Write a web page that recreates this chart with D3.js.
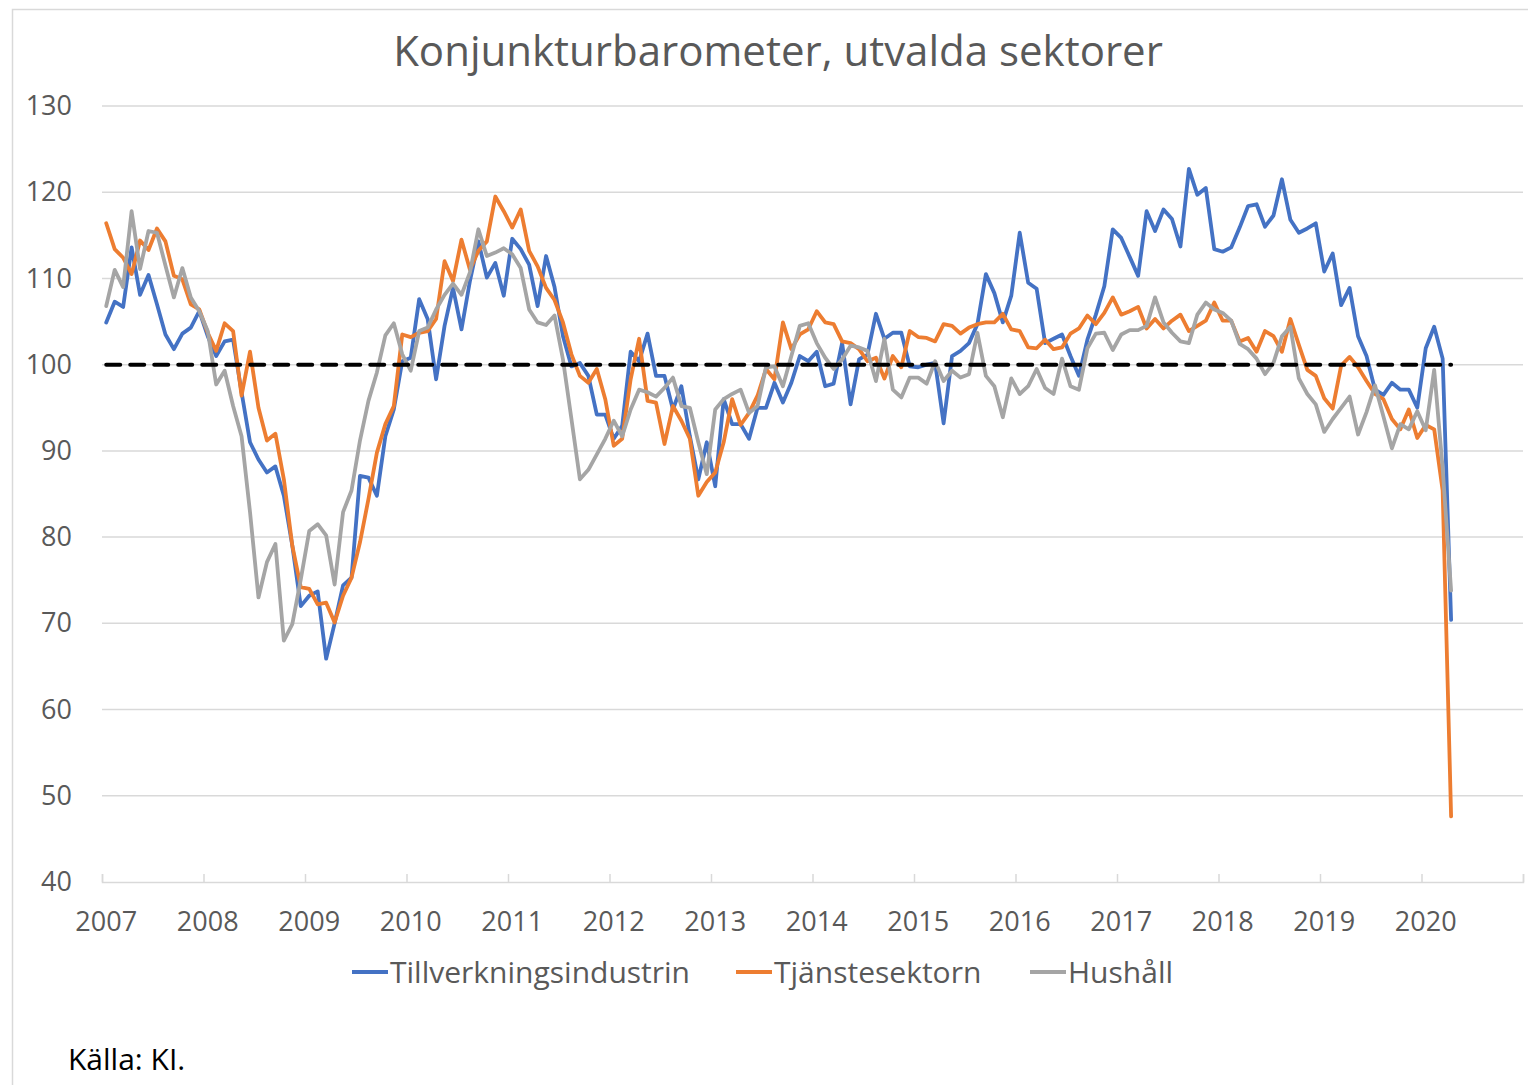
<!DOCTYPE html>
<html>
<head>
<meta charset="utf-8">
<script src="https://cdn.jsdelivr.net/npm/d3@7"></script>
<style>
  body { margin: 0; background: #fff; }
  svg text { font-family: "Open Sans", "DejaVu Sans", sans-serif; }
</style>
</head>
<body>
<div id="chart"></div>
<script>
// Monthly values Jan 2007 - Apr 2020
var years = ["2007","2008","2009","2010","2011","2012","2013","2014","2015","2016","2017","2018","2019","2020"];
var yTicks = [40, 50, 60, 70, 80, 90, 100, 110, 120, 130];
var seriesNames = ["Tillverkningsindustrin", "Tjänstesektorn", "Hushåll"];
var seriesColors = ["#4472C4", "#ED7D31", "#A5A5A5"];
var refLevel = 100;

var tillverkning = [
  104.9,107.3,106.7,113.6,108.1,110.4,107.0,103.5,101.8,103.6,104.3,106.2,
  103.3,101.0,102.7,102.9,96.8,91.0,89.0,87.5,88.2,84.8,79.0,72.0,
  73.2,73.7,65.9,70.0,74.4,75.3,87.1,86.9,84.8,91.7,94.8,100.4,
  100.8,107.6,105.3,98.3,104.5,108.9,104.1,109.7,114.3,110.1,111.8,108.0,
  114.6,113.4,111.6,106.8,112.6,109.0,103.3,99.8,100.2,98.7,94.2,94.2,
  91.4,92.9,101.5,100.4,103.6,98.7,98.7,94.8,97.5,91.7,86.7,91.0,
  85.9,96.0,93.1,93.1,91.4,95.0,95.0,97.9,95.6,97.9,101.0,100.4,
  101.5,97.5,97.8,102.5,95.4,100.6,101.2,105.9,103.0,103.7,103.7,99.8,
  99.7,100.0,100.2,93.2,101.0,101.6,102.5,104.7,110.5,108.3,104.9,108.0,
  115.3,109.5,108.8,102.5,103.0,103.5,101.0,98.7,102.9,105.8,109.1,115.7,
  114.7,112.5,110.3,117.8,115.5,118.0,116.9,113.7,122.7,119.7,120.5,113.4,
  113.1,113.6,115.9,118.4,118.6,116.0,117.3,121.5,116.8,115.3,115.8,116.4,
  110.8,112.9,106.9,108.9,103.3,101.0,97.1,96.5,97.9,97.1,97.1,95.0,
  101.9,104.4,100.7,70.4
];

var tjanste = [
  116.4,113.4,112.4,110.5,114.4,113.3,115.8,114.3,110.3,109.9,107.0,106.4,
  103.7,101.6,104.8,103.9,96.4,101.5,95.0,91.2,92.0,86.7,79.0,74.2,
  74.0,72.2,72.4,70.1,73.2,75.3,79.4,84.4,89.8,93.1,95.2,103.5,
  103.2,103.7,103.9,105.3,112.0,109.7,114.5,111.0,113.2,114.3,119.5,117.8,
  115.9,118.0,113.2,111.4,108.9,107.5,104.9,101.2,98.7,97.9,99.5,96.0,
  90.6,91.4,98.3,103.0,95.8,95.6,90.8,95.2,93.5,91.4,84.8,86.4,
  87.5,91.0,96.0,93.0,94.4,96.4,99.5,98.3,104.9,101.8,103.5,104.1,
  106.2,104.9,104.7,102.7,102.5,101.8,100.4,100.8,98.4,101.0,99.7,103.9,
  103.2,103.1,102.7,104.7,104.5,103.6,104.3,104.7,104.9,104.9,105.9,104.1,
  103.9,102.0,101.9,102.9,101.8,102.0,103.6,104.2,105.7,104.7,106.0,107.8,
  105.8,106.2,106.7,104.2,105.3,104.2,105.1,105.8,103.9,104.5,105.1,107.2,
  105.1,105.1,102.7,103.1,101.5,103.9,103.3,101.5,105.3,102.3,99.4,98.7,
  96.1,94.9,99.9,100.9,99.7,98.1,96.6,96.0,93.7,92.5,94.8,91.5,
  93.0,92.5,85.4,47.6
];

var hushall = [
  106.8,111.0,109.0,117.8,111.1,115.5,115.3,111.5,107.8,111.2,107.8,106.2,
  103.9,97.7,99.3,95.2,91.7,82.9,73.0,77.1,79.2,68.0,69.9,75.1,
  80.7,81.5,80.2,74.5,82.9,85.4,91.2,95.8,99.1,103.4,104.8,101.2,
  99.3,103.9,104.3,106.4,108.1,109.4,108.1,110.7,115.7,112.6,113.0,113.5,
  112.8,111.2,106.4,104.9,104.6,105.7,100.6,93.7,86.7,87.8,89.6,91.4,
  93.5,91.7,94.8,97.1,96.8,96.3,97.3,98.5,95.2,95.0,91.0,87.3,
  94.8,96.0,96.6,97.1,94.4,95.2,99.7,99.8,97.5,101.0,104.5,104.8,
  102.5,100.8,99.5,100.6,102.2,102.0,101.6,98.1,103.0,97.1,96.2,98.5,
  98.5,97.8,100.4,98.1,99.3,98.5,98.9,103.7,98.7,97.5,93.9,98.4,
  96.6,97.5,99.5,97.3,96.6,100.7,97.5,97.1,101.9,103.6,103.7,101.7,
  103.5,104.0,104.0,104.5,107.8,104.9,103.7,102.7,102.5,105.8,107.2,106.4,
  106.0,105.1,102.4,101.8,100.7,98.9,100.2,103.3,104.4,98.4,96.6,95.4,
  92.2,93.7,95.0,96.3,91.9,94.5,97.6,94.0,90.3,93.1,92.5,94.6,
  92.4,99.4,88.0,73.8
];

var series = [tillverkning, tjanste, hushall];

var W = 1528, H = 1085;
var margin = {top: 106, right: 5, bottom: 203, left: 102};

var svg = d3.select("#chart").append("svg")
    .attr("width", W)
    .attr("height", H);

// chart frame
svg.append("rect")
    .attr("x", 12.5).attr("y", 9.5)
    .attr("width", W + 20).attr("height", H + 20)
    .attr("fill", "#fff")
    .attr("stroke", "#d9d9d9")
    .attr("stroke-width", 1.5);

// one slot per month, 14 years of slots
var nSlots = years.length * 12;
var x = d3.scaleLinear().domain([0, nSlots]).range([margin.left, W - margin.right]);
var y = d3.scaleLinear().domain([40, 130]).range([H - margin.bottom, margin.top]);

// gridlines
svg.append("g")
    .selectAll("line")
    .data(yTicks.filter(function(d) { return d > 40; }))
    .enter().append("line")
    .attr("x1", x(0)).attr("x2", x(nSlots))
    .attr("y1", function(d) { return y(d); })
    .attr("y2", function(d) { return y(d); })
    .attr("stroke", "#d9d9d9")
    .attr("stroke-width", 1.5);

// Y axis labels
var yAxis = d3.axisLeft(y).tickValues(yTicks).tickSize(0).tickPadding(30);
var gy = svg.append("g")
    .attr("transform", "translate(" + x(0) + ",0)")
    .call(yAxis);
gy.select(".domain").remove();
gy.selectAll("text")
    .attr("fill", "#595959")
    .style("font-size", "27px");

// X axis: ticks every 12 months, pointing up
var xAxis = d3.axisBottom(x)
    .tickValues(d3.range(0, nSlots + 1, 12))
    .tickSize(-8)
    .tickFormat("");
var gx = svg.append("g")
    .attr("transform", "translate(0," + y(40) + ")")
    .call(xAxis);
gx.select(".domain").attr("stroke", "#d9d9d9").attr("stroke-width", 1.5);
gx.selectAll(".tick line").attr("stroke", "#d9d9d9").attr("stroke-width", 1.5);

svg.append("g")
    .selectAll("text")
    .data(years)
    .enter().append("text")
    .attr("x", function(d, i) { return x(i * 12 + 0.5); })
    .attr("y", 931)
    .attr("text-anchor", "middle")
    .attr("fill", "#595959")
    .style("font-size", "27px")
    .text(function(d) { return d; });

// series lines
var line = d3.line()
    .x(function(d, i) { return x(i + 0.5); })
    .y(function(d) { return y(d); });

svg.append("g")
    .selectAll("path")
    .data(series)
    .enter().append("path")
    .attr("d", function(d) { return line(d); })
    .attr("fill", "none")
    .attr("stroke", function(d, i) { return seriesColors[i]; })
    .attr("stroke-width", 3.8)
    .attr("stroke-linejoin", "round")
    .attr("stroke-linecap", "round");

// reference line at 100
svg.append("path")
    .attr("d", line(tillverkning.map(function() { return refLevel; })))
    .attr("fill", "none")
    .attr("stroke", "#000")
    .attr("stroke-width", 4)
    .attr("stroke-linecap", "round")
    .attr("stroke-dasharray", "14,10");

// title
svg.append("text")
    .attr("x", 778)
    .attr("y", 66)
    .attr("text-anchor", "middle")
    .attr("fill", "#595959")
    .style("font-size", "42px")
    .text("Konjunkturbarometer, utvalda sektorer");

// legend
var legendX = [352, 736, 1030];
var lg = svg.append("g").selectAll("g")
    .data(seriesNames)
    .enter().append("g")
    .attr("transform", function(d, i) { return "translate(" + legendX[i] + ",972)"; });
lg.append("line")
    .attr("x1", 0).attr("x2", 36)
    .attr("stroke", function(d, i) { return seriesColors[i]; })
    .attr("stroke-width", 3.8);
lg.append("text")
    .attr("x", 38)
    .attr("y", 11)
    .attr("fill", "#595959")
    .style("font-size", "30px")
    .text(function(d) { return d; });

// source
svg.append("text")
    .attr("x", 68)
    .attr("y", 1070)
    .attr("fill", "#000")
    .style("font-size", "30px")
    .text("Källa: KI.");
</script>
</body>
</html>
